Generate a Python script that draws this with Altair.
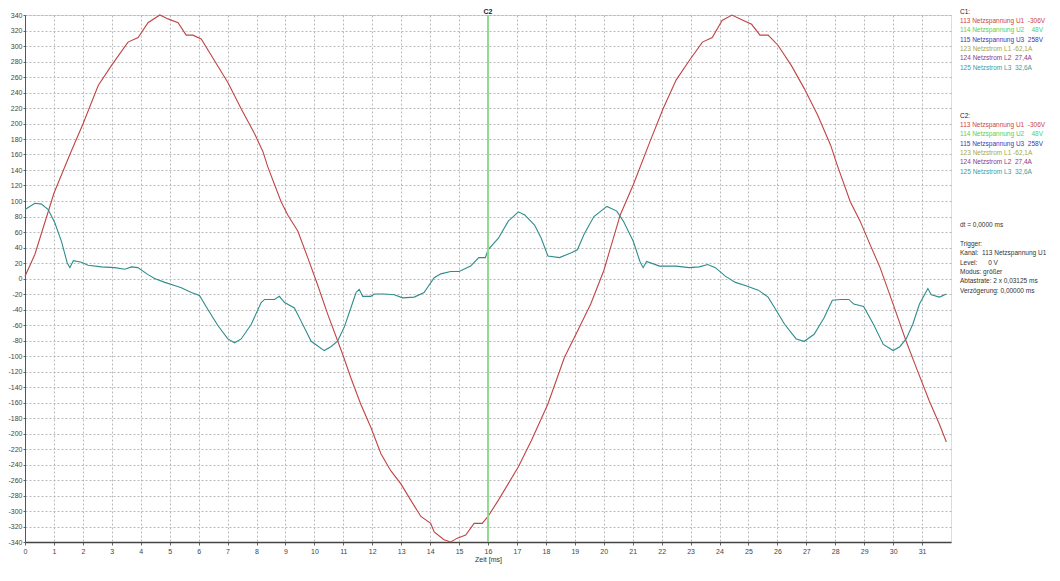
import altair as alt
import pandas as pd

# ---- data ----
red_t = [0, 0.34, 1.0, 1.55, 2.01, 2.53, 2.99, 3.56, 3.91, 4.25, 4.66, 4.94, 5.29, 5.57, 5.8,
         6.09, 6.55, 7.01, 7.47, 7.93, 8.22, 8.39, 8.85, 9.08, 9.43, 9.77, 10.11, 10.46, 10.98,
         11.26, 11.6, 11.95, 12.3, 12.64, 12.99, 13.33, 13.68, 14.02, 14.14, 14.48, 14.71, 14.94,
         15.23, 15.52, 15.8, 16.0, 16.36, 17.05, 17.5, 18.07, 18.64, 19.09, 19.55, 20.0, 20.57,
         21.02, 21.59, 22.05, 22.5, 22.95, 23.41, 23.75, 24.09, 24.43, 24.77, 25.11, 25.4, 25.68,
         26.02, 26.48, 26.93, 27.39, 27.84, 28.07, 28.52, 28.86, 29.2, 29.55, 30.0, 30.45, 30.8,
         31.25, 31.6, 31.84]
red_v = [3, 31, 110, 160, 200, 249, 275, 305, 311, 330, 340, 335, 330, 314, 314,
         309, 281, 253, 219, 187, 164, 144, 99, 82, 61, 27, -8, -46, -98,
         -128, -162, -192, -226, -248, -265, -286, -307, -316, -327, -337, -340, -335,
         -331, -316, -316, -307, -286, -243, -209, -162, -102, -68, -33, 10, 82,
         121, 176, 219, 256, 281, 305, 311, 333, 340, 334, 328, 314, 314,
         301, 275, 245, 211, 172, 146, 99, 74, 44, 14, -33, -81, -115,
         -158, -188, -211]

teal_t = [0, 0.34, 0.57, 0.8, 1.03, 1.26, 1.46, 1.55, 1.67, 1.95, 2.18, 2.64, 3.1, 3.45, 3.68,
          3.9, 4.25, 4.48, 4.83, 5.17, 5.4, 5.75, 6.03, 6.32, 6.67, 7.01, 7.24, 7.47, 7.82, 8.16,
          8.28, 8.62, 8.79, 8.97, 9.31, 9.54, 9.89, 10.34, 10.57, 10.8, 11.03, 11.26, 11.44, 11.55,
          11.67, 11.95, 12.07, 12.41, 12.76, 13.05, 13.45, 13.79, 14.14, 14.37, 14.71, 15.0, 15.4,
          15.68, 15.91, 16.0, 16.36, 16.7, 17.05, 17.27, 17.61, 17.84, 18.07, 18.47, 18.86, 19.09,
          19.32, 19.66, 20.11, 20.45, 20.68, 21.02, 21.25, 21.36, 21.48, 21.93, 22.5, 22.95, 23.3,
          23.59, 23.86, 24.2, 24.55, 24.89, 25.34, 25.68, 25.91, 26.25, 26.65, 26.93, 27.27, 27.61,
          27.9, 28.18, 28.47, 28.64, 28.98, 29.32, 29.66, 30.0, 30.23, 30.45, 30.68, 30.91, 31.2,
          31.32, 31.6, 31.84]
teal_v = [89, 97, 96, 89, 72, 48, 20, 14, 23, 21, 17, 15, 14, 12, 15,
          14, 5, 0, -5, -9, -12, -18, -22, -40, -61, -78, -83, -78, -59, -31,
          -27, -27, -23, -31, -38, -55, -81, -93, -88, -81, -63, -38, -18, -14,
          -23, -23, -20, -20, -21, -25, -24, -18, 1, 6, 9, 9, 16,
          27, 27, 37, 52, 74, 86, 82, 69, 52, 29, 27, 33, 37,
          57, 80, 93, 87, 74, 48, 22, 14, 22, 16, 16, 14, 15,
          18, 14, 3, -5, -9, -15, -24, -38, -59, -78, -81, -72, -51,
          -28, -27, -27, -33, -36, -59, -85, -93, -88, -78, -59, -33, -13,
          -21, -24, -20]

x_ticks = list(range(0, 32))
y_ticks = list(range(-340, 341, 20))
cursor_t = [16.0]
cursor_label = ["C2"]

NB = "\u00a0"
channel_texts = [
    "113 Netzspannung U1" + NB * 2 + "-306V",
    "114 Netzspannung U2" + NB * 4 + "48V",
    "115 Netzspannung U3" + NB * 2 + "258V",
    "123 Netzstrom L1 -62,1A",
    "124 Netzstrom L2" + NB * 2 + "27,4A",
    "125 Netzstrom L3" + NB * 2 + "32,6A",
]
channel_colors = ["#cc4444", "#55d055", "#3838b8", "#a8a845", "#8a3a8a", "#3a9c9c"]
info_texts = [
    "dt = 0,0000 ms",
    "Trigger:",
    "Kanal:" + NB * 2 + "113 Netzspannung U1",
    "Level:" + NB * 6 + "0 V",
    "Modus: größer",
    "Abtastrate: 2 x 0,03125 ms",
    "Verzögerung: 0,00000 ms",
]

# ---- build panel table ----
rows = []
for blk_title, y0 in (("C1:", -3.5), ("C2:", 100.7)):
    rows.append({"text": blk_title, "color": "#222222", "y": y0})
    for i, (t, c) in enumerate(zip(channel_texts, channel_colors)):
        rows.append({"text": t, "color": c, "y": y0 + 9.35 * (i + 1)})
info_y = [210, 229, 238.3, 247.6, 256.9, 266.2, 275.5]
for t, yy in zip(info_texts, info_y):
    rows.append({"text": t, "color": "#333333", "y": yy})
panel = pd.DataFrame(rows)

W, H = 926, 527
xscale = alt.Scale(domain=[0, 32], nice=False, zero=False)
yscale = alt.Scale(domain=[-340, 340], nice=False, zero=False)

red_df = pd.DataFrame({"t": red_t, "v": red_v})
teal_df = pd.DataFrame({"t": teal_t, "v": teal_v})


def x_axis():
    return alt.Axis(values=x_ticks, title="Zeit [ms]", grid=True, gridDash=[2, 2],
                    gridColor="#a8a8a8", gridWidth=0.8, domainColor="#444444", domainWidth=1.5,
                    tickColor="#666666", tickSize=3, labelFontSize=7, labelColor="#444444",
                    labelFont="Liberation Sans", labelPadding=2, titleFontSize=7,
                    titleFontWeight="normal", titleColor="#333333", titleFont="Liberation Sans",
                    titlePadding=1, labelFlush=False, labelOverlap=False, tickCount=32)


def y_axis():
    return alt.Axis(values=y_ticks, title=None, grid=True, gridDash=[2, 2], gridColor="#a8a8a8",
                    gridWidth=0.8, domainColor="#555555", tickColor="#666666", tickSize=2,
                    labelFontSize=7, labelColor="#444444", labelFont="Liberation Sans",
                    labelPadding=1, labelExpr="'' + datum.value", labelFlush=False,
                    labelOverlap=False, tickCount=35)


red = alt.Chart(red_df).mark_line(color="#c04444", strokeWidth=1.1).encode(
    x=alt.X("t:Q", scale=xscale, axis=x_axis()),
    y=alt.Y("v:Q", scale=yscale, axis=y_axis()),
)
teal = alt.Chart(teal_df).mark_line(color="#2f8c8c", strokeWidth=1.1).encode(
    x=alt.X("t:Q", scale=xscale, axis=x_axis()),
    y=alt.Y("v:Q", scale=yscale, axis=y_axis()),
)
cur_df = pd.DataFrame({"t": cursor_t, "label": cursor_label})
cursor = alt.Chart(cur_df).mark_rule(color="#8fdc8f", strokeWidth=2).encode(
    x=alt.X("t:Q", scale=xscale, axis=x_axis())
)
cursor_txt = alt.Chart(cur_df).mark_text(
    font="Liberation Sans", fontSize=7, fontWeight="bold", color="#222222", baseline="bottom"
).encode(x=alt.X("t:Q", scale=xscale, axis=x_axis()), y=alt.value(-0.5), text="label:N")

panel_txt = alt.Chart(panel).mark_text(
    font="Liberation Sans", fontSize=6.5, align="left", baseline="middle"
).encode(
    x=alt.value(935),
    y=alt.Y("y:Q", scale=None),
    text="text:N",
    color=alt.Color("color:N", scale=None),
)

chart = alt.layer(red, teal, cursor, cursor_txt, panel_txt).properties(
    width=W, height=H,
    autosize=alt.AutoSizeParams(type="none"),
    padding={"left": 17, "top": 7, "right": 101, "bottom": 24},
).configure_view(stroke=None).configure(background="white")

chart.save("out.html", embed_options={"renderer": "svg", "actions": False})
